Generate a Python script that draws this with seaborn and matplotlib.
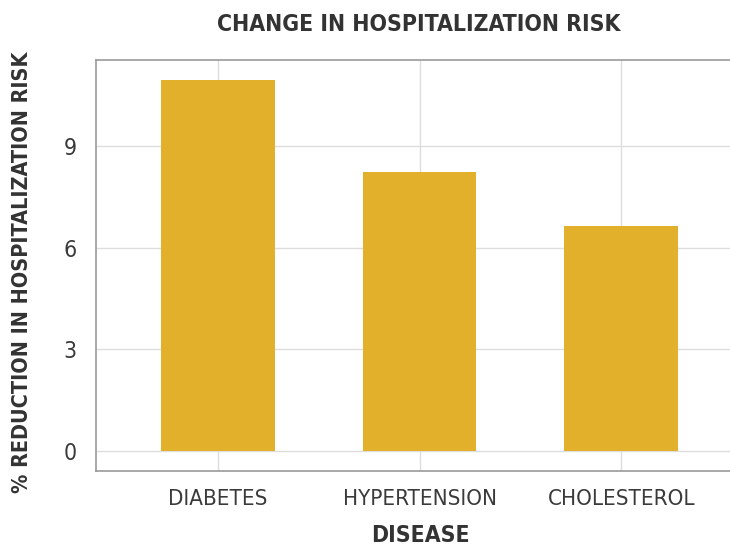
import matplotlib
matplotlib.use("Agg")
import matplotlib.pyplot as plt
import seaborn as sns
import pandas as pd

# Data
diseases = ["DIABETES", "HYPERTENSION", "CHOLESTEROL"]
reduction = [10.95, 8.24, 6.64]
y_ticks = [0, 3, 6, 9]

bar_color = "#E3B02C"
text_color = "#333333"

sns.set_theme(style="whitegrid")
plt.rcParams["font.family"] = ["DejaVu Sans"]
plt.rcParams["font.stretch"] = "condensed"

df = pd.DataFrame({"disease": diseases, "reduction": reduction})

fig = plt.figure(figsize=(7.30, 5.51), dpi=100)
ax = fig.add_axes([0.1315, 0.1452, 0.8685, 0.7468])

sns.barplot(data=df, x="disease", y="reduction", color=bar_color,
            saturation=1, width=0.565, linewidth=0, ax=ax, zorder=3)

ax.set_xlim(-0.605, 2.54)
ax.set_ylim(-0.6, 11.57)
ax.set_yticks(y_ticks)

ax.grid(True, color="#dddddd", linewidth=1)
ax.set_axisbelow(True)
for side in ["left", "top", "bottom"]:
    ax.spines[side].set_visible(True)
    ax.spines[side].set_color("#999999")
    ax.spines[side].set_linewidth(1.2)
ax.spines["right"].set_visible(False)

ax.tick_params(axis="both", which="both", length=5, width=1, color="#dddddd",
               labelcolor="#3a3a3a")
ax.tick_params(axis="y", labelsize=16.5, pad=9)
ax.tick_params(axis="x", labelsize=16, pad=8)

ax.set_xlabel("DISEASE", fontsize=16.5, fontweight="bold", color=text_color)
ax.xaxis.set_label_coords(0.512, -0.128)
ax.set_ylabel("% REDUCTION IN HOSPITALIZATION RISK", fontsize=15.5, fontweight="bold",
              color=text_color)
ax.yaxis.set_label_coords(-0.101, 0.482)
fig.suptitle("CHANGE IN HOSPITALIZATION RISK", fontsize=16.5, fontweight="bold",
             color=text_color, x=0.573, y=0.977)

fig.savefig("out.png", dpi=100)
